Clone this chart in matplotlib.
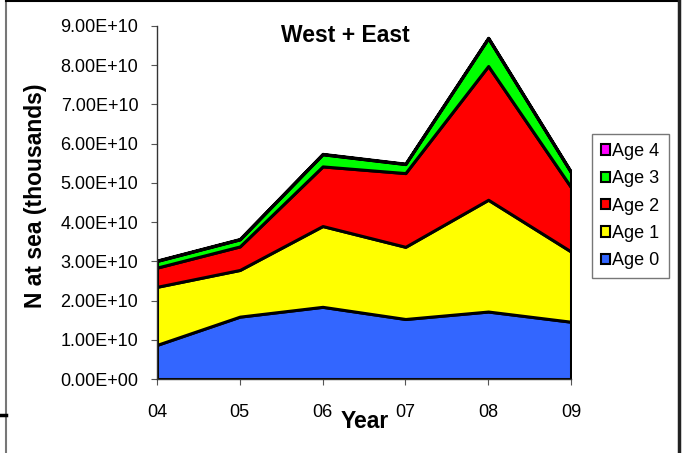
import matplotlib
matplotlib.use("Agg")
import matplotlib.pyplot as plt
from matplotlib.patches import Patch
from matplotlib.lines import Line2D
from matplotlib.ticker import FuncFormatter

plt.rcParams['font.family'] = ['Liberation Sans', 'DejaVu Sans']

years = ["04", "05", "06", "07", "08", "09"]
labels = ["Age 0", "Age 1", "Age 2", "Age 3", "Age 4"]
colors = ["#3366FF", "#FFFF00", "#FF0000", "#00FF00", "#FF00FF"]

# numbers at sea per age class (thousands)
age0 = [0.87e10, 1.59e10, 1.84e10, 1.53e10, 1.72e10, 1.46e10]
age1 = [1.48e10, 1.19e10, 2.06e10, 1.84e10, 2.85e10, 1.79e10]
age2 = [0.49e10, 0.60e10, 1.52e10, 1.88e10, 3.41e10, 1.64e10]
age3 = [0.17e10, 0.18e10, 0.31e10, 0.23e10, 0.71e10, 0.38e10]
age4 = [0.01e10, 0.01e10, 0.01e10, 0.01e10, 0.01e10, 0.01e10]

W, H = 683, 453
fig = plt.figure(figsize=(W / 100, H / 100), dpi=100)
ax = fig.add_axes([157 / W, 1 - 379 / H, (571 - 157) / W, (379 - 26) / H])

x = list(range(len(years)))
base = [0.0] * len(x)
for vals, c in zip([age0, age1, age2, age3, age4], colors):
    top = [b + v for b, v in zip(base, vals)]
    ax.fill_between(x, base, top, facecolor=c, edgecolor="black", linewidth=2.2, zorder=2)
    base = top

ax.set_xlim(0, len(x) - 1)
ax.set_ylim(0, 9e10)
ax.set_yticks([i * 1e10 for i in range(10)])
ax.yaxis.set_major_formatter(FuncFormatter(lambda v, p: f"{v:.2E}"))
ax.set_xticks(x)
ax.set_xticklabels(years)

for s in ["top", "right"]:
    ax.spines[s].set_visible(False)
for s in ["left", "bottom"]:
    ax.spines[s].set_color("#333333")
    ax.spines[s].set_linewidth(1.0)
ax.tick_params(axis="y", direction="out", length=4.5, width=0.8, color="#555555", pad=9, labelsize=13)
ax.tick_params(axis="x", direction="out", length=4, width=0.8, color="#555555", pad=14, labelsize=13)

fig.text(345 / W, 1 - 35 / H, "West + East", ha="center", va="center",
         fontsize=16.5, fontweight="bold")
fig.text(365 / W, 1 - 422 / H, "Year", ha="center", va="center",
         fontsize=16.5, fontweight="bold")
fig.text(36 / W, 1 - 196 / H, "N at sea (thousands)", ha="center", va="center",
         rotation=90, fontsize=16.5, fontweight="bold")

handles = [Patch(facecolor=c, edgecolor="black", linewidth=1.5) for c in colors]
leg = ax.legend(handles[::-1], labels[::-1], loc="upper left",
                bbox_to_anchor=(592 / W, 1 - 134 / H), bbox_transform=fig.transFigure,
                borderaxespad=0, fontsize=13, handlelength=0.5, handleheight=0.5,
                handletextpad=0.12, labelspacing=0.57, borderpad=0.5,
                fancybox=False, framealpha=1)
leg.get_frame().set_edgecolor("#777777")
leg.get_frame().set_linewidth(1.0)

# outer frame of the panel
fig.add_artist(Line2D([6 / W, 6 / W], [0, 1], transform=fig.transFigure, color="#777777", lw=1.5))
fig.add_artist(Line2D([6 / W, 679 / W], [1 - 0.8 / H, 1 - 0.8 / H], transform=fig.transFigure, color="black", lw=1.5))
fig.add_artist(Line2D([679 / W, 679 / W], [0, 1], transform=fig.transFigure, color="#222222", lw=2.5))
fig.add_artist(Line2D([0, 6 / W], [1 - 415 / H, 1 - 415 / H], transform=fig.transFigure, color="black", lw=2.5))

fig.savefig("out.png", dpi=100)
